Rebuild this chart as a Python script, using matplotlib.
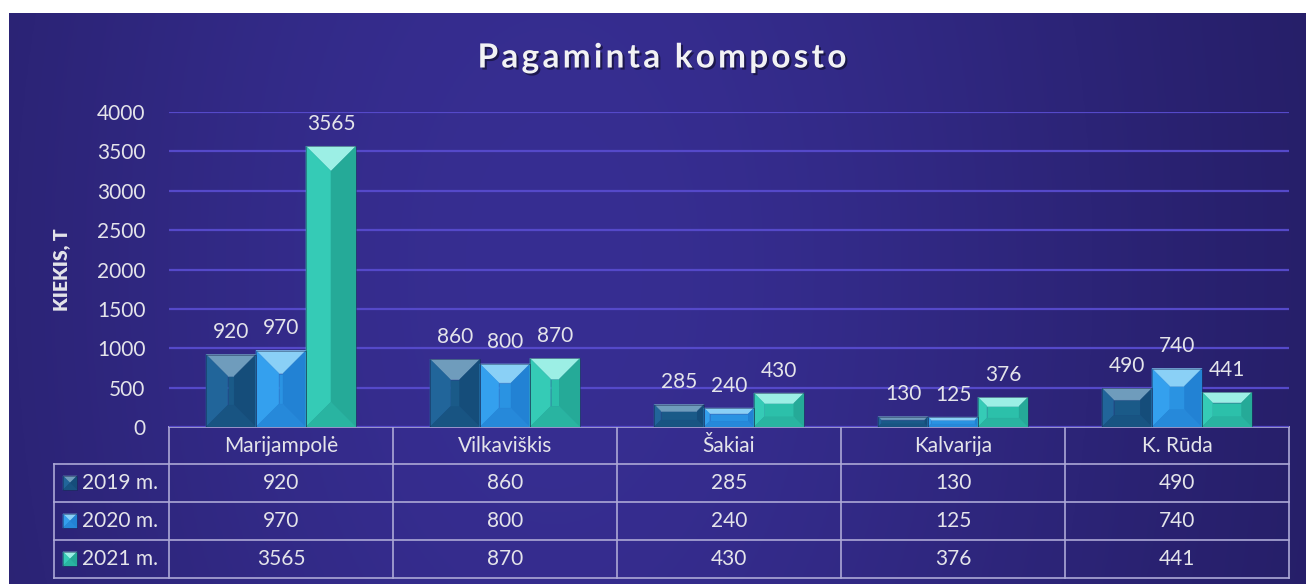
import numpy as np
import matplotlib
matplotlib.use("Agg")
import matplotlib.pyplot as plt
from matplotlib.patches import Polygon
import matplotlib.patheffects as pe

plt.rcParams['font.family'] = ['Lato', 'DejaVu Sans']

# data
towns = ['Marijampolė', 'Vilkaviškis', 'Šakiai', 'Kalvarija', 'K. Rūda']
years = ['2019 m.', '2020 m.', '2021 m.']
v2019 = [920, 860, 285, 130, 490]
v2020 = [970, 800, 240, 125, 740]
v2021 = [3565, 870, 430, 376, 441]
series = [v2019, v2020, v2021]
title = 'Pagaminta komposto'

# facet colours: base, top, left, right, bottom
palettes = [
    ['#1a5a88', '#6f9cbc', '#21659a', '#154d7a', '#185482'],
    ['#2a93e2', '#8ad0f6', '#34a0ee', '#2282d4', '#2689da'],
    ['#2cc0aa', '#9cefe5', '#35cbb6', '#25aa98', '#29b4a1'],
]
txt_col = '#e4e4ea'
grid_col = '#5549c9'
tab_col = '#aca8d6'

W, H = 1306, 584
fig = plt.figure(figsize=(W / 100, H / 100), dpi=100, facecolor='white')

# background in pixel coordinates
bg = fig.add_axes([0, 0, 1, 1])
bg.set_xlim(0, W)
bg.set_ylim(H, 0)
bg.axis('off')
xs = np.linspace(0, 1, 400)
ys = np.linspace(0, 1, 200)
X, Y = np.meshgrid(xs, ys)
t = np.exp(-((X - 0.42) / 0.5) ** 2) * (1 - 0.25 * (Y - 0.45) ** 2)
edge = np.array([33, 26, 92]) / 255
mid = np.array([55, 46, 146]) / 255
img = edge + (mid - edge) * t[..., None]
bg.imshow(img, extent=(9, W, H, 13), aspect='auto', zorder=0)


def bevel(ax, xl, xr, yb, yt, ix, iy, cols, z=3):
    s = 1 if yt > yb else -1
    BL, BR, TR, TL = (xl, yb), (xr, yb), (xr, yt), (xl, yt)
    ibl = (xl + ix, yb + s * iy)
    ibr = (xr - ix, yb + s * iy)
    itr = (xr - ix, yt - s * iy)
    itl = (xl + ix, yt - s * iy)
    faces = [
        ([itl, itr, ibr, ibl], cols[0]),
        ([TL, TR, itr, itl], cols[1]),
        ([BL, TL, itl, ibl], cols[2]),
        ([TR, BR, ibr, itr], cols[3]),
        ([BR, BL, ibl, ibr], cols[4]),
    ]
    for pts, c in faces:
        ax.add_patch(Polygon(pts, closed=True, facecolor=c, edgecolor=c,
                             linewidth=0.4, zorder=z))
    ax.add_patch(Polygon([BL, TL, TR, BR], closed=True, fill=False,
                         edgecolor='#15224a', linewidth=0.6, alpha=0.5, zorder=z + 0.1))


# main chart
x0, x1, ytop, ybot = 169, 1289, 112, 427
ax = fig.add_axes([x0 / W, (H - ybot) / H, (x1 - x0) / W, (ybot - ytop) / H])
ax.set_facecolor('none')
ax.set_xlim(-0.5, len(towns) - 0.5)
ax.set_ylim(0, 4000)
for sp in ax.spines.values():
    sp.set_visible(False)
ax.set_yticks(np.arange(0, 4001, 500))
ax.set_xticks([])
ax.tick_params(axis='y', length=0, pad=17, labelsize=15, labelcolor=txt_col)
ax.grid(axis='y', color=grid_col, linewidth=1.6, zorder=1)
ax.set_axisbelow(True)
ax.set_ylabel('KIEKIS, T', color=txt_col, fontsize=14, fontweight='heavy', labelpad=19)

px_x = (x1 - x0) / len(towns)
px_y = (ybot - ytop) / 4000
bw = 50 / px_x
for k, vals in enumerate(series):
    for i, v in enumerate(vals):
        c = i + (k - 1) * bw
        hpx = v * px_y
        d = min(25, hpx * 0.3)
        bevel(ax, c - bw / 2, c + bw / 2, 0, v, d / px_x, d / px_y, palettes[k])
        ax.annotate(str(v), (c, v), xytext=(0, 9), textcoords='offset points',
                    ha='center', va='bottom', fontsize=15, color=txt_col)

# title, letter-spaced
renderer = fig.canvas.get_renderer()
tkw = dict(fontsize=24, fontweight='bold', color='#f2f2f4')
spacing = 3.2
probe = bg.text(0, 0, title, **tkw)
full_w = probe.get_window_extent(renderer).width
probe.remove()
start = 662 - (full_w + spacing * (len(title) - 1)) / 2
for i, ch in enumerate(title):
    if i:
        pr = bg.text(0, 0, title[:i] + '|', **tkw)
        bar_ = bg.text(0, 0, '|', **tkw)
        off = pr.get_window_extent(renderer).width - bar_.get_window_extent(renderer).width
        pr.remove()
        bar_.remove()
    else:
        off = 0
    bg.text(start + off + i * spacing, 58, ch, ha='left', va='center', zorder=4,
            path_effects=[pe.SimplePatchShadow(offset=(1.5, -1.5), shadow_rgbFace='black', alpha=0.45),
                          pe.Normal()], **tkw)

# data table
rows_y = [427, 464, 502, 540, 578]
col_x = [x0 + i * px_x for i in range(len(towns) + 1)]
lab_x = 54
bg.plot([x0, x1], [rows_y[0], rows_y[0]], color=tab_col, lw=1.2, zorder=2)
for y in rows_y[1:]:
    bg.plot([lab_x, x1], [y, y], color=tab_col, lw=1.2, zorder=2)
for x in col_x:
    bg.plot([x, x], [rows_y[0], rows_y[-1]], color=tab_col, lw=1.2, zorder=2)
bg.plot([lab_x, lab_x], [rows_y[1], rows_y[-1]], color=tab_col, lw=1.2, zorder=2)

for i, name in enumerate(towns):
    cx = (col_x[i] + col_x[i + 1]) / 2
    bg.text(cx, (rows_y[0] + rows_y[1]) / 2, name, ha='center', va='center',
            fontsize=15, color=txt_col, zorder=3)
    for k, vals in enumerate(series):
        cy = (rows_y[k + 1] + rows_y[k + 2]) / 2
        bg.text(cx, cy, str(vals[i]), ha='center', va='center',
                fontsize=15, color=txt_col, zorder=3)

for k, yr in enumerate(years):
    cy = (rows_y[k + 1] + rows_y[k + 2]) / 2
    bevel(bg, 63, 77, cy + 7, cy - 7, 7, 7, palettes[k], z=3)
    bg.text(82, cy, yr, ha='left', va='center', fontsize=15, color=txt_col, zorder=3)

fig.savefig('out.png', dpi=100, facecolor='white')
